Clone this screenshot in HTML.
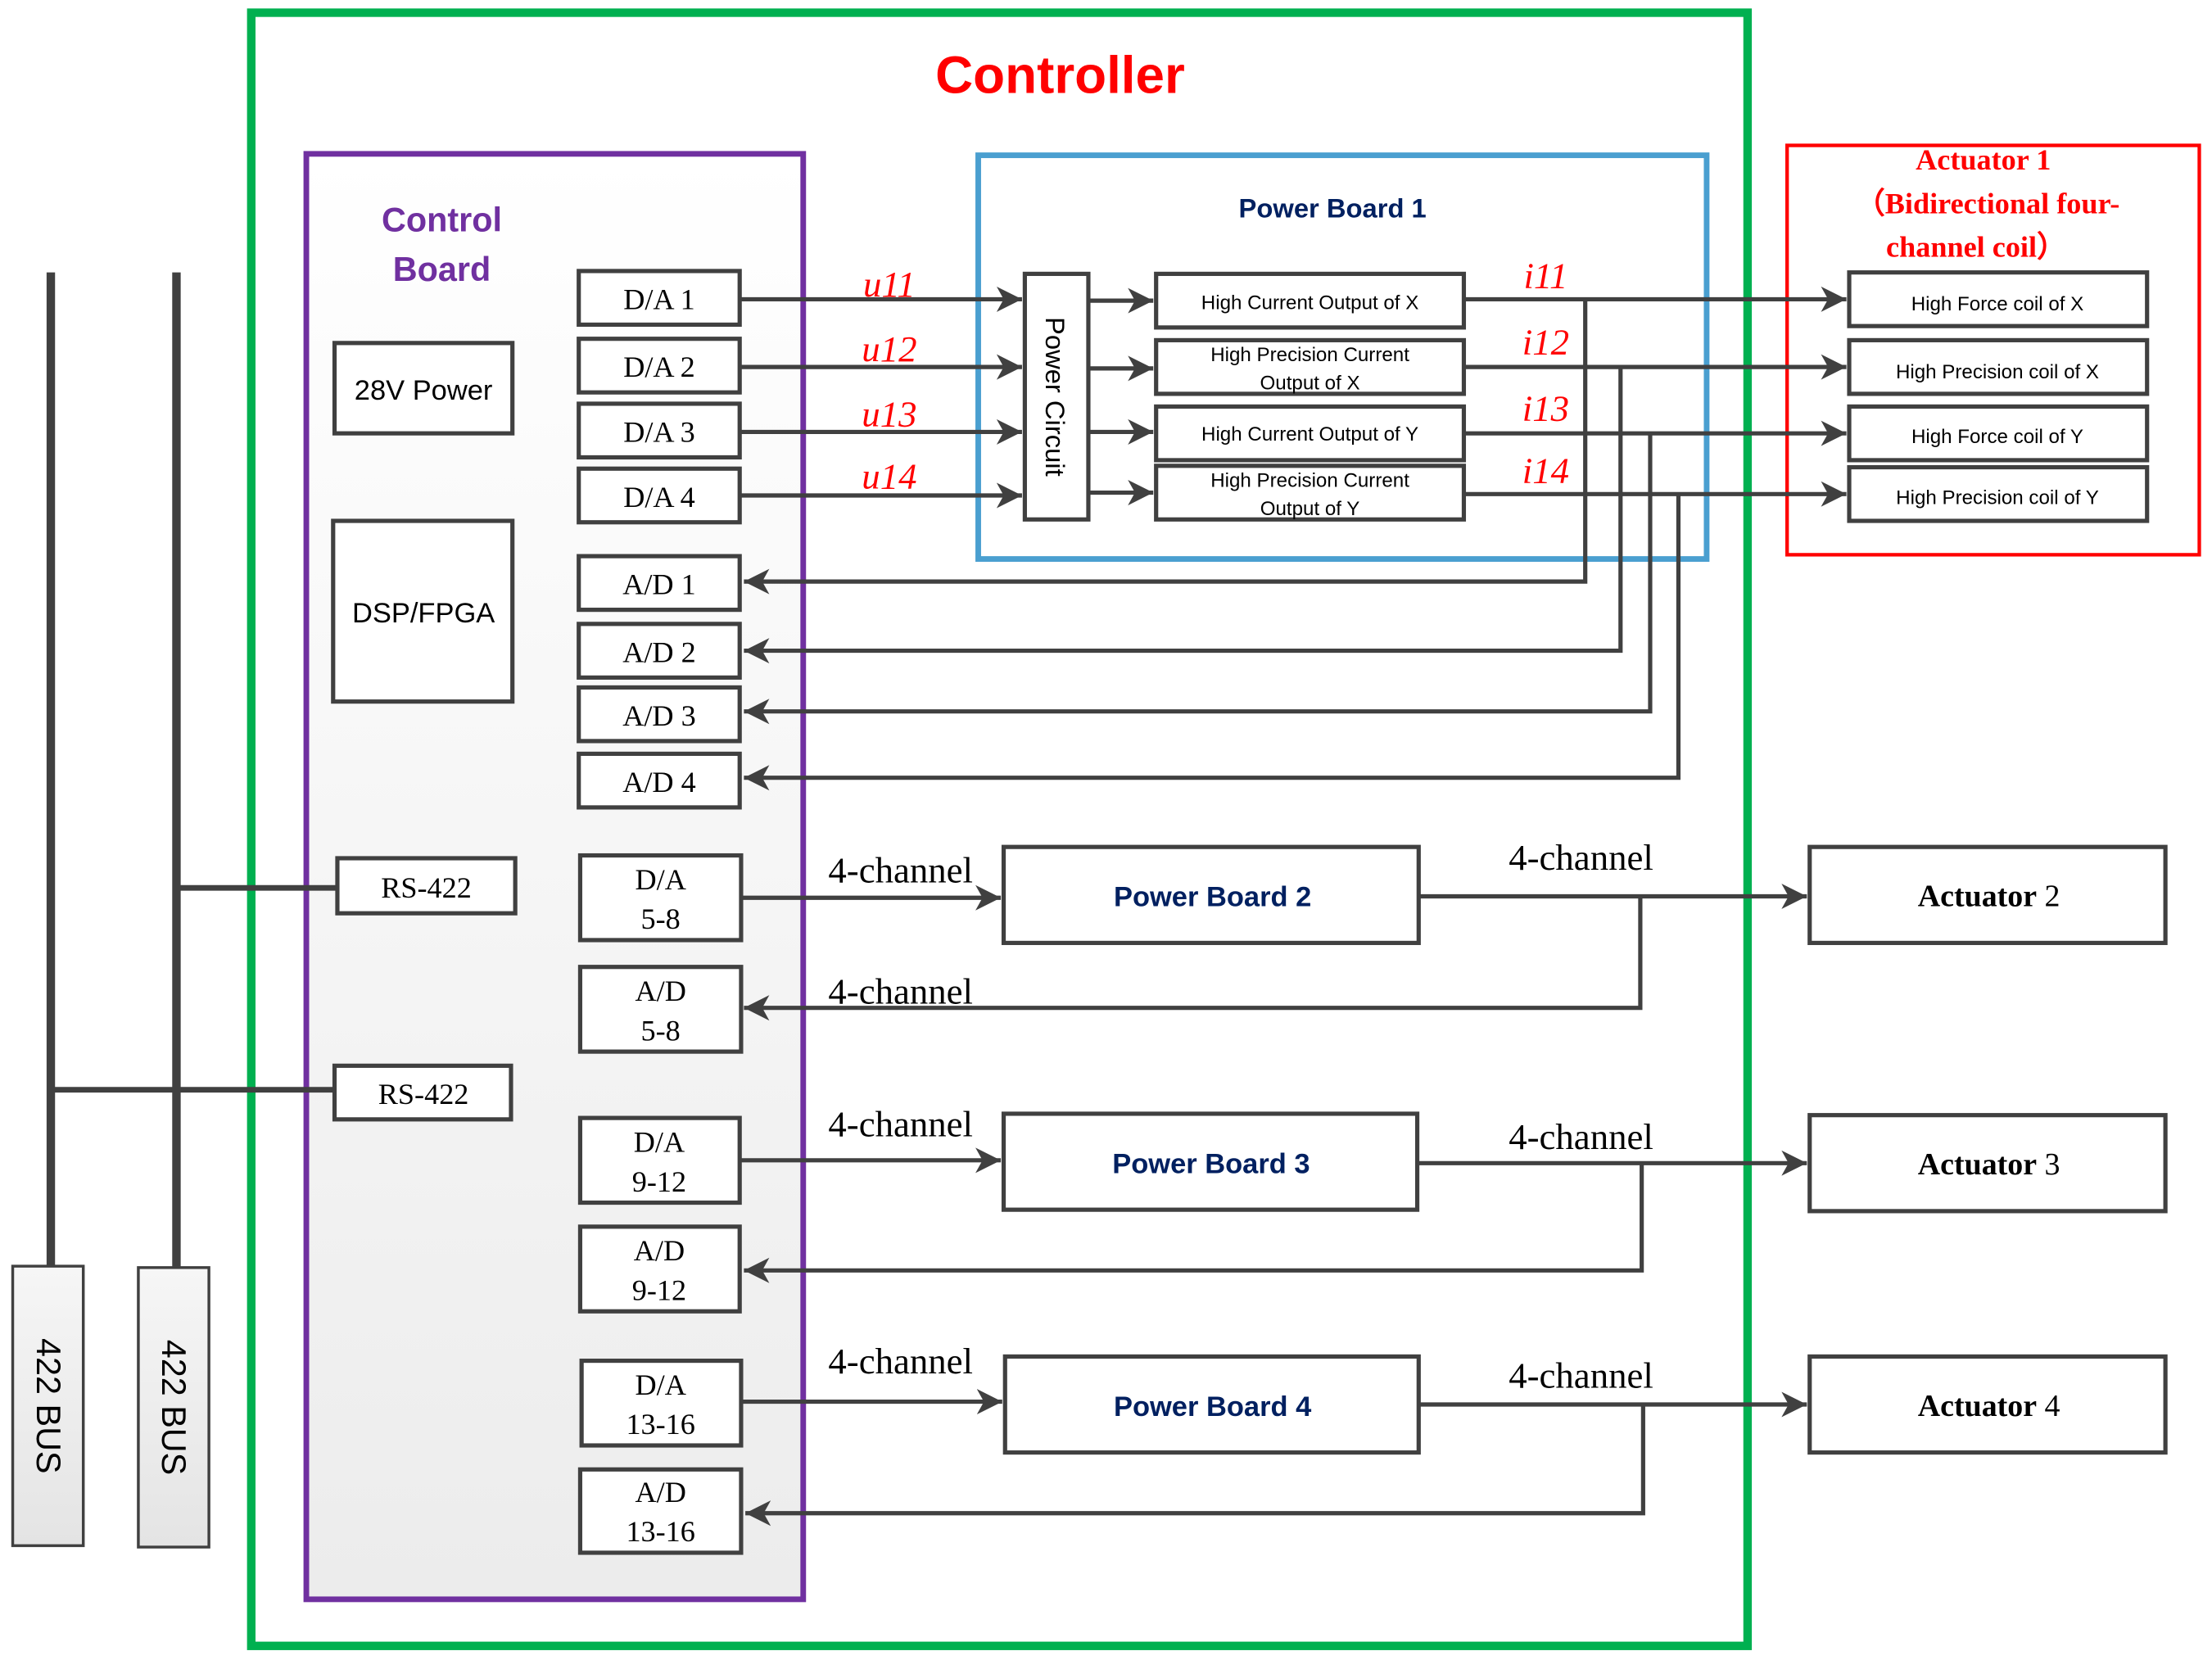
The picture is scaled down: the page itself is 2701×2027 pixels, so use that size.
<!DOCTYPE html>
<html><head><meta charset="utf-8"><style>
html,body{margin:0;padding:0;background:#fff;}
svg{display:block;}
.s{font-family:"Liberation Sans",sans-serif;}
.r{font-family:"Liberation Serif",serif;}
</style></head><body>
<svg width="2701" height="2027" viewBox="0 0 1567 1176" preserveAspectRatio="none" xmlns="http://www.w3.org/2000/svg">
<defs>
<linearGradient id="pg" x1="0" y1="0" x2="0" y2="1"><stop offset="0" stop-color="#ffffff"/><stop offset="1" stop-color="#ececec"/></linearGradient>
<linearGradient id="bg" x1="0" y1="0" x2="0" y2="1"><stop offset="0" stop-color="#f6f6f6"/><stop offset="1" stop-color="#e4e4e4"/></linearGradient>
<marker id="b" markerWidth="20" markerHeight="20" refX="18" refY="10" orient="auto" markerUnits="userSpaceOnUse"><path d="M0,1 L18,10 L0,19 L5,10 Z" fill="#404040"/></marker>
</defs>
<rect x="178" y="9" width="1060" height="1157" fill="none" stroke="#00b050" stroke-width="6"/>
<text x="751" y="66" text-anchor="middle" class="s" font-size="37" font-weight="bold" fill="#ff0000">Controller</text>
<rect x="217" y="109" width="352" height="1024" fill="url(#pg)" stroke="#7030a0" stroke-width="4"/>
<text x="313" y="164" text-anchor="middle" class="s" font-size="24" font-weight="bold" fill="#7030a0">Control</text>
<text x="313" y="199" text-anchor="middle" class="s" font-size="24" font-weight="bold" fill="#7030a0">Board</text>
<g fill="#fff" stroke="#404040" stroke-width="3">
<rect x="237" y="243" width="126" height="64"/>
<rect x="236" y="369" width="127" height="128"/>
<rect x="239" y="608" width="126" height="39"/>
<rect x="237" y="755" width="125" height="38"/>
<rect x="410" y="192" width="114" height="38"/>
<rect x="410" y="240" width="114" height="38"/>
<rect x="410" y="286" width="114" height="38"/>
<rect x="410" y="332" width="114" height="38"/>
<rect x="410" y="394" width="114" height="38"/>
<rect x="410" y="442" width="114" height="38"/>
<rect x="410" y="487" width="114" height="38"/>
<rect x="410" y="534" width="114" height="38"/>
<rect x="411" y="606" width="114" height="60"/>
<rect x="411" y="685" width="114" height="60"/>
<rect x="411" y="792" width="113" height="60"/>
<rect x="411" y="869" width="113" height="60"/>
<rect x="412" y="964" width="113" height="60"/>
<rect x="411" y="1041" width="114" height="59"/>
</g>
<g class="s" font-size="20" fill="#000" text-anchor="middle">
<text x="300" y="283">28V Power</text>
<text x="300" y="441">DSP/FPGA</text>
</g>
<g class="r" font-size="21" fill="#000" text-anchor="middle">
<text x="302" y="636">RS-422</text>
<text x="300" y="782">RS-422</text>
<text x="467" y="219">D/A 1</text>
<text x="467" y="267">D/A 2</text>
<text x="467" y="313">D/A 3</text>
<text x="467" y="359">D/A 4</text>
<text x="467" y="421">A/D 1</text>
<text x="467" y="469">A/D 2</text>
<text x="467" y="514">A/D 3</text>
<text x="467" y="561">A/D 4</text>
<text x="468" y="630">D/A</text><text x="468" y="658">5-8</text>
<text x="468" y="709">A/D</text><text x="468" y="737">5-8</text>
<text x="467" y="816">D/A</text><text x="467" y="844">9-12</text>
<text x="467" y="893">A/D</text><text x="467" y="921">9-12</text>
<text x="468" y="988">D/A</text><text x="468" y="1016">13-16</text>
<text x="468" y="1064">A/D</text><text x="468" y="1092">13-16</text>
</g>
<rect x="693" y="110" width="516" height="286" fill="none" stroke="#4a9fd0" stroke-width="4"/>
<text x="944" y="154" text-anchor="middle" class="s" font-size="19" font-weight="bold" fill="#002060">Power Board 1</text>
<g fill="#fff" stroke="#404040" stroke-width="3">
<rect x="726" y="194" width="45" height="174"/>
<rect x="819" y="194" width="218" height="38"/>
<rect x="819" y="241" width="218" height="38"/>
<rect x="819" y="288" width="218" height="38"/>
<rect x="819" y="330" width="218" height="38"/>
<rect x="1310" y="193" width="211" height="38"/>
<rect x="1310" y="241" width="211" height="38"/>
<rect x="1310" y="288" width="211" height="38"/>
<rect x="1310" y="331" width="211" height="38"/>
<rect x="711" y="600" width="294" height="68"/>
<rect x="711" y="789" width="293" height="68"/>
<rect x="712" y="961" width="293" height="68"/>
<rect x="1282" y="600" width="252" height="68"/>
<rect x="1282" y="790" width="252" height="68"/>
<rect x="1282" y="961" width="252" height="68"/>
</g>
<text transform="translate(741,281) rotate(90)" text-anchor="middle" class="s" font-size="19" fill="#000">Power Circuit</text>
<g class="s" font-size="14" fill="#000" text-anchor="middle">
<text x="928" y="219">High Current Output of X</text>
<text x="928" y="256">High Precision Current</text><text x="928" y="276">Output of X</text>
<text x="928" y="312">High Current Output of Y</text>
<text x="928" y="345">High Precision Current</text><text x="928" y="365">Output of Y</text>
<text x="1415" y="220">High Force coil of X</text>
<text x="1415" y="268">High Precision coil of X</text>
<text x="1415" y="314">High Force coil of Y</text>
<text x="1415" y="357">High Precision coil of Y</text>
</g>
<rect x="1266" y="103" width="292" height="290" fill="none" stroke="#ff0000" stroke-width="2.5"/>
<g class="r" font-size="21" font-weight="bold" fill="#ff0000" text-anchor="middle">
<text x="1405" y="120">Actuator 1</text>
<text x="1408" y="151">（Bidirectional four-</text>
<text x="1400" y="182">channel coil）</text>
</g>
<g class="s" font-size="20" font-weight="bold" fill="#002060" text-anchor="middle">
<text x="859" y="642">Power Board 2</text>
<text x="858" y="831">Power Board 3</text>
<text x="859" y="1003">Power Board 4</text>
</g>
<g class="r" font-size="22" fill="#000" text-anchor="middle">
<text x="1409" y="642"><tspan font-weight="bold">Actuator</tspan> 2</text>
<text x="1409" y="832"><tspan font-weight="bold">Actuator</tspan> 3</text>
<text x="1409" y="1003"><tspan font-weight="bold">Actuator</tspan> 4</text>
</g>
<g stroke="#404040" stroke-width="3" fill="none">
<line x1="524" y1="212" x2="724" y2="212" marker-end="url(#b)"/>
<line x1="524" y1="260" x2="724" y2="260" marker-end="url(#b)"/>
<line x1="524" y1="306" x2="724" y2="306" marker-end="url(#b)"/>
<line x1="524" y1="351" x2="724" y2="351" marker-end="url(#b)"/>
<line x1="771" y1="213" x2="817" y2="213" marker-end="url(#b)"/>
<line x1="771" y1="261" x2="817" y2="261" marker-end="url(#b)"/>
<line x1="771" y1="306" x2="817" y2="306" marker-end="url(#b)"/>
<line x1="771" y1="349" x2="817" y2="349" marker-end="url(#b)"/>
<line x1="1037" y1="212" x2="1308" y2="212" marker-end="url(#b)"/>
<line x1="1037" y1="260" x2="1308" y2="260" marker-end="url(#b)"/>
<line x1="1037" y1="307" x2="1308" y2="307" marker-end="url(#b)"/>
<line x1="1037" y1="350" x2="1308" y2="350" marker-end="url(#b)"/>
<polyline points="1123,212 1123,412 527,412" marker-end="url(#b)"/>
<polyline points="1148,260 1148,461 527,461" marker-end="url(#b)"/>
<polyline points="1169,307 1169,504 527,504" marker-end="url(#b)"/>
<polyline points="1189,350 1189,551 527,551" marker-end="url(#b)"/>
<line x1="525" y1="636" x2="709" y2="636" marker-end="url(#b)"/>
<line x1="1005" y1="635" x2="1280" y2="635" marker-end="url(#b)"/>
<polyline points="1162,635 1162,714 527,714" marker-end="url(#b)"/>
<line x1="524" y1="822" x2="709" y2="822" marker-end="url(#b)"/>
<line x1="1004" y1="824" x2="1280" y2="824" marker-end="url(#b)"/>
<polyline points="1163,824 1163,900 527,900" marker-end="url(#b)"/>
<line x1="525" y1="993" x2="710" y2="993" marker-end="url(#b)"/>
<line x1="1005" y1="995" x2="1280" y2="995" marker-end="url(#b)"/>
<polyline points="1164,995 1164,1072 528,1072" marker-end="url(#b)"/>
</g>
<g class="r" font-size="26" font-style="italic" fill="#ff0000" text-anchor="middle">
<text x="630" y="210">u11</text>
<text x="630" y="256">u12</text>
<text x="630" y="302">u13</text>
<text x="630" y="346">u14</text>
<text x="1095" y="204">i11</text>
<text x="1095" y="251">i12</text>
<text x="1095" y="298">i13</text>
<text x="1095" y="342">i14</text>
</g>
<g class="r" font-size="26" fill="#000" text-anchor="middle">
<text x="638" y="625">4-channel</text>
<text x="1120" y="616">4-channel</text>
<text x="638" y="711">4-channel</text>
<text x="638" y="805">4-channel</text>
<text x="1120" y="814">4-channel</text>
<text x="638" y="973">4-channel</text>
<text x="1120" y="983">4-channel</text>
</g>
<g stroke="#404040" stroke-width="6">
<line x1="36" y1="193" x2="36" y2="900"/>
<line x1="125" y1="193" x2="125" y2="900"/>
<line x1="125" y1="629" x2="239" y2="629" stroke-width="4"/>
<line x1="36" y1="772" x2="237" y2="772" stroke-width="4"/>
</g>
<rect x="9" y="897" width="50" height="198" fill="url(#bg)" stroke="#404040" stroke-width="2"/>
<rect x="98" y="898" width="50" height="198" fill="url(#bg)" stroke="#404040" stroke-width="2"/>
<text transform="translate(26,996) rotate(90)" text-anchor="middle" class="s" font-size="24" fill="#000">422 BUS</text>
<text transform="translate(115,997) rotate(90)" text-anchor="middle" class="s" font-size="24" fill="#000">422 BUS</text>
</svg>
</body></html>
